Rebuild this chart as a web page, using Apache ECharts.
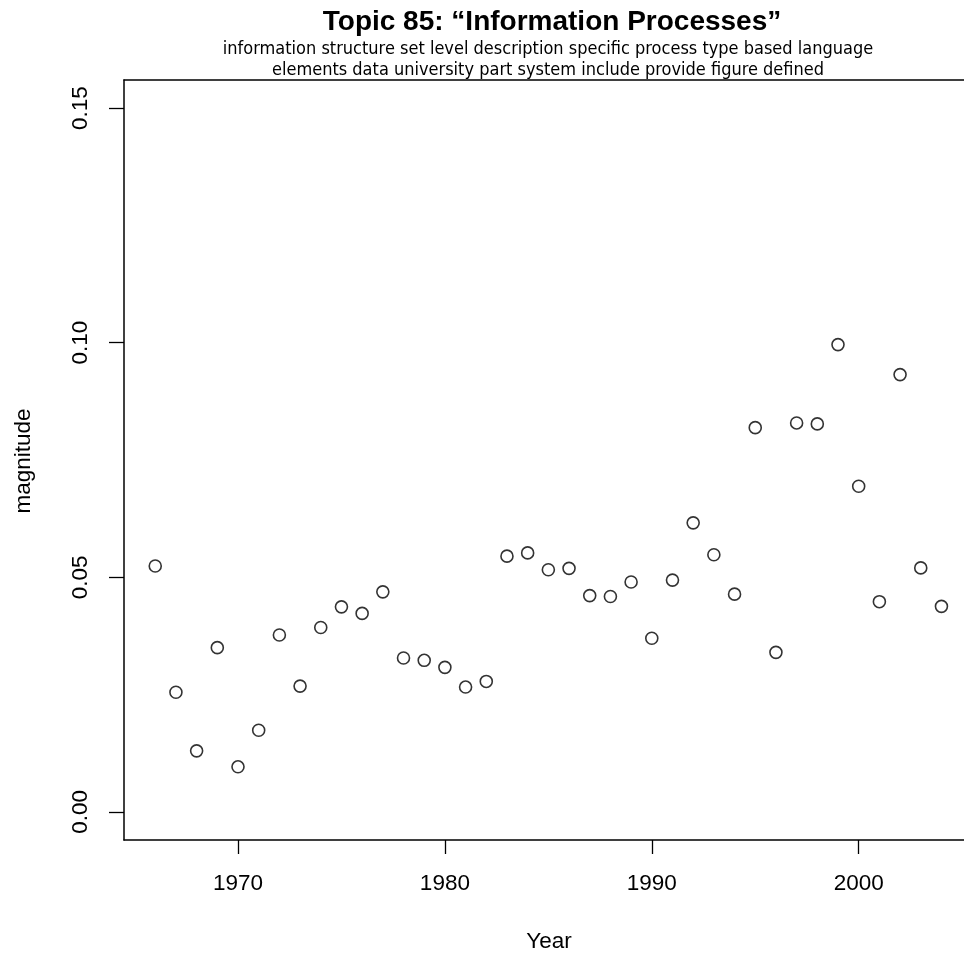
<!DOCTYPE html>
<html>
<head>
<meta charset="utf-8">
<script src="https://cdn.jsdelivr.net/npm/echarts@6/dist/echarts.min.js"></script>
<style>html,body{margin:0;padding:0;background:#fff}#c{width:964px;height:953px}</style>
</head>
<body>
<div id="c"></div>
<script>
var years = [1966,1967,1968,1969,1970,1971,1972,1973,1974,1975,1976,1977,1978,1979,1980,1981,1982,1983,1984,1985,1986,1987,1988,1989,1990,1991,1992,1993,1994,1995,1996,1997,1998,1999,2000,2001,2002,2003,2004];
var magnitude = [0.0524,0.0255,0.0130,0.0350,0.0096,0.0174,0.0377,0.0268,0.0393,0.0437,0.0423,0.0469,0.0328,0.0323,0.0308,0.0266,0.0278,0.0545,0.0552,0.0516,0.0519,0.0461,0.0459,0.0490,0.0370,0.0494,0.0616,0.0548,0.0464,0.0819,0.0340,0.0829,0.0827,0.0996,0.0694,0.0448,0.0932,0.0520,0.0438];
var xTicks = [1970,1980,1990,2000];
var yTicks = [0,0.05,0.10,0.15];
var titleText = 'Topic 85: \u201cInformation Processes\u201d';
var subLines = ['information structure set level description specific process type based language',
                'elements data university part system include provide figure defined'];

var pts = years.map(function(y,i){return [y, magnitude[i]];});
var chart = echarts.init(document.getElementById('c'));
var narrow = "'Liberation Sans Narrow','DejaVu Sans Condensed',sans-serif";
var sans = "'Liberation Sans',Arial,sans-serif";
var axisLineStyle = {color: '#000', width: 1.5};
chart.setOption({
  animation: false,
  backgroundColor: '#fff',
  title: [
    {text: titleText, left: 547, top: 3, textAlign: 'center',
     textStyle: {fontFamily: sans, fontWeight: 'bold', fontSize: 28, color: '#000'}},
    {text: subLines[0], left: 543, top: 35, textAlign: 'center',
     textStyle: {fontFamily: narrow, fontWeight: 'normal', fontSize: 18, color: '#000'}},
    {text: subLines[1], left: 543, top: 56, textAlign: 'center',
     textStyle: {fontFamily: narrow, fontWeight: 'normal', fontSize: 18, color: '#000'}}
  ],
  grid: {left: 124, top: 80, right: 0, bottom: 113, containLabel: false},
  xAxis: [{
    type: 'value', min: 1964.49, max: 2005.09, position: 'bottom',
    axisLine: {show: true, onZero: false, lineStyle: axisLineStyle},
    splitLine: {show: false},
    axisTick: {show: true, length: 14, lineStyle: {color: '#000', width: 1.3}, customValues: xTicks},
    axisLabel: {customValues: xTicks, margin: 32, fontFamily: sans, fontSize: 22.5, color: '#000',
                formatter: function(v){return String(v);}}
  }, {
    type: 'value', min: 1964.49, max: 2005.09, position: 'top',
    axisLine: {show: true, onZero: false, lineStyle: axisLineStyle},
    splitLine: {show: false}, axisTick: {show: false}, axisLabel: {show: false}
  }],
  yAxis: {
    type: 'value', min: -0.006, max: 0.156,
    axisLine: {show: true, onZero: false, lineStyle: axisLineStyle},
    splitLine: {show: false},
    axisTick: {show: true, length: 15, lineStyle: {color: '#000', width: 1.3}, customValues: yTicks},
    axisLabel: {customValues: yTicks, rotate: 90, margin: 32, fontFamily: sans, fontSize: 22.5, color: '#000',
                formatter: function(v){return v.toFixed(2);}}
  },
  graphic: [
    {type: 'text', x: 549, y: 942, style: {text: 'Year', fontFamily: sans, fontSize: 22.5, fill: '#000', align: 'center', verticalAlign: 'middle'}},
    {type: 'text', x: 24, y: 461, rotation: Math.PI/2,
     style: {text: 'magnitude', fontFamily: sans, fontSize: 22.5, fill: '#000', align: 'center', verticalAlign: 'middle'}}
  ],
  series: [{
    type: 'scatter', data: pts, symbol: 'circle', symbolSize: 12,
    itemStyle: {color: 'rgba(255,255,255,0)', borderColor: '#000', borderWidth: 1.6}
  }]
});
</script>
</body>
</html>
